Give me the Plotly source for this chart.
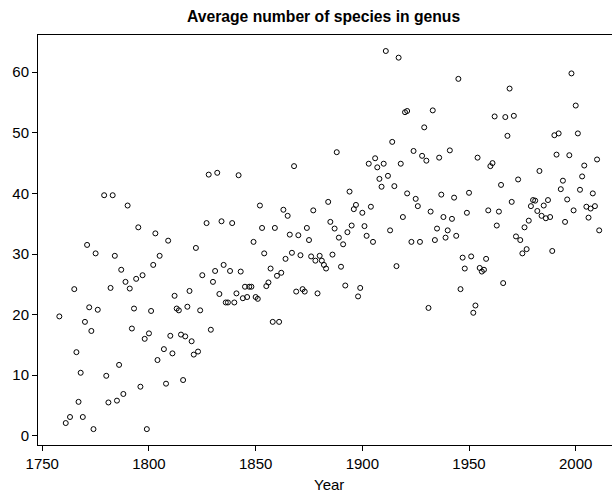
import plotly.graph_objects as go

years = [
    1779, 1783, 1790, 1795, 1803, 1809, 1771,
    1775, 1784, 1805, 1802, 1787, 1797, 1794, 1789, 1765, 1782, 1791, 1812,
    1772, 1776, 1793, 1801, 1813, 1814, 1758, 1770, 1773, 1792, 1800, 1798,
    1810, 1815, 1766, 1807, 1811, 1804, 1786, 1768, 1780, 1816, 1796, 1808,
    1767, 1781, 1785, 1788, 1763, 1769, 1761, 1774, 1799,
    1828, 1832, 1842, 1868, 1852, 1863, 1865, 1877, 1827, 1834, 1839, 1853,
    1859, 1866, 1870, 1874, 1875, 1849,
    1822, 1854, 1867, 1871, 1864, 1876, 1880, 1878, 1881, 1835, 1825, 1831,
    1838, 1843, 1857, 1830, 1845, 1847, 1848, 1856, 1855, 1860, 1862, 1819,
    1833, 1841, 1844, 1846, 1850, 1851, 1836, 1837, 1840, 1869, 1872, 1873,
    1879, 1818, 1824, 1829, 1858, 1861, 1817, 1820, 1821, 1823,
    1911, 1917, 1945, 1920, 1921, 1933, 1929, 1914, 1888, 1924, 1928, 1930,
    1936, 1941, 1906, 1903, 1907, 1910, 1918, 1908, 1912, 1909, 1915, 1894,
    1921, 1925, 1926, 1937, 1943, 1884, 1897, 1896, 1900, 1904, 1932, 1919,
    1938, 1942, 1949, 1885, 1887, 1895, 1893, 1889, 1901, 1902, 1905, 1913,
    1935, 1940, 1944, 1939, 1934, 1923, 1927, 1891,
    1886, 1882, 1883, 1890, 1916, 1947, 1948, 1892, 1899, 1898, 1946, 1931,
    1998, 1969, 2000, 1962, 1967, 1971, 1968, 1990, 1992, 2001, 1991, 1997,
    1954, 1961, 1960, 2010, 2004, 1983, 2003, 1994, 1973, 1965, 1993, 2002,
    2008, 1950, 1970, 1980, 1981, 1987, 1996, 1979, 1985, 1999, 2005, 2007,
    2009, 1982, 1984, 1986, 1988, 2006, 1959, 1964, 1978, 1976, 1995, 1963,
    2011, 1972, 1974,
    1975, 1977, 1989, 1951, 1958, 1955, 1956, 1957, 1966, 1953, 1952,
]

avg_species = [
    39.7, 39.7, 38.0, 34.4, 33.4, 32.2, 31.5,
    30.1, 29.7, 29.7, 28.2, 27.4, 26.5, 25.9, 25.4, 24.2, 24.4, 24.3, 23.1,
    21.2, 20.8, 21.0, 20.6, 21.0, 20.7, 19.7, 18.8, 17.3, 17.7, 16.9, 16.0,
    16.5, 16.7, 13.8, 14.3, 13.6, 12.5, 11.7, 10.4, 9.9, 9.2, 8.1, 8.6,
    5.6, 5.5, 5.8, 6.9, 3.1, 3.1, 2.1, 1.1, 1.1,
    43.1, 43.4, 43.0, 44.5, 38.0, 37.3, 36.3, 37.2, 35.1, 35.4, 35.1, 34.3,
    34.3, 33.2, 33.1, 34.3, 32.3, 32.0,
    31.0, 30.1, 30.2, 29.8, 29.2, 29.6, 29.7, 28.9, 28.9, 28.2, 26.5, 27.2,
    27.2, 27.1, 27.6, 25.4, 24.6, 24.6, 24.6, 25.3, 24.7, 26.4, 26.9, 23.9,
    23.4, 23.5, 22.7, 22.9, 22.9, 22.6, 22.0, 22.0, 22.0, 23.8, 24.2, 23.8,
    23.5, 21.3, 20.7, 17.5, 18.8, 18.8, 16.4, 15.6, 13.4, 13.9,
    63.5, 62.4, 58.9, 53.4, 53.6, 53.7, 50.9, 48.5, 46.8, 47.0, 46.2, 45.4,
    45.9, 47.1, 45.8, 44.9, 44.3, 44.9, 44.9, 42.4, 42.9, 41.1, 41.2, 40.3,
    40.0, 39.1, 37.9, 39.8, 39.3, 38.6, 38.1, 37.4, 36.8, 37.8, 37.0, 36.1,
    36.1, 35.8, 36.8, 35.3, 34.2, 34.7, 33.6, 32.7, 34.6, 33.0, 32.0, 33.9,
    34.2, 33.9, 33.0, 32.7, 32.3, 32.0, 32.0, 31.6,
    29.9, 28.2, 27.6, 27.9, 28.0, 29.4, 27.6, 24.8, 24.4, 23.0, 24.2, 21.1,
    59.8, 57.3, 54.5, 52.7, 52.6, 52.8, 49.5, 49.6, 49.9, 49.9, 46.4, 46.3,
    45.9, 45.0, 44.5, 45.6, 44.6, 43.7, 42.8, 42.1, 42.3, 41.4, 40.7, 40.6,
    40.0, 40.1, 38.6, 38.9, 38.8, 38.9, 39.0, 37.9, 38.0, 37.2, 37.8, 37.5,
    37.9, 37.1, 36.3, 35.9, 36.1, 36.0, 37.2, 37.0, 35.5, 34.4, 35.3, 34.7,
    33.9, 32.9, 32.3,
    30.1, 30.8, 30.5, 29.6, 29.2, 27.7, 27.1, 27.4, 25.2, 21.5, 20.3,
]

x_ticks = [1750, 1800, 1850, 1900, 1950, 2000]
y_ticks = [0, 10, 20, 30, 40, 50, 60]

FONT = "Liberation Sans, Arial, Helvetica, sans-serif"

fig = go.Figure(
    go.Scatter(
        x=years,
        y=avg_species,
        mode="markers",
        marker=dict(symbol="circle-open", size=5, color="black", line=dict(width=1)),
        hoverinfo="x+y",
    )
)

fig.update_layout(
    width=612,
    height=494,
    margin=dict(l=38, r=0, t=35, b=49),
    paper_bgcolor="white",
    plot_bgcolor="white",
    showlegend=False,
    font=dict(family=FONT, size=15, color="black"),
)

fig.update_xaxes(
    range=[1748.0, 2017.0],
    tickvals=x_ticks,
    ticktext=[str(v) for v in x_ticks],
    showgrid=False,
    zeroline=False,
    showline=True,
    linecolor="black",
    linewidth=1,
    mirror=True,
    ticks="outside",
    ticklen=5,
    tickwidth=1,
    tickcolor="black",
    tickfont=dict(size=15),
)
fig.update_yaxes(
    range=[-1.52, 66.14],
    tickvals=y_ticks,
    ticktext=[str(v) for v in y_ticks],
    showgrid=False,
    zeroline=False,
    showline=True,
    linecolor="black",
    linewidth=1,
    mirror=False,
    ticks="outside",
    ticklen=5,
    tickwidth=1,
    tickcolor="black",
    tickfont=dict(size=15),
)

fig.add_annotation(
    text="<b>Average number of species in genus</b>",
    xref="paper", yref="paper",
    x=(323.5 - 38) / 574, y=1 + (35 - 17) / 410,
    xanchor="center", yanchor="middle",
    showarrow=False,
    font=dict(family=FONT, size=15.7, color="black"),
)
fig.add_annotation(
    text="Year",
    xref="paper", yref="paper",
    x=(328.5 - 38) / 574, y=-(484 - 445) / 410,
    xanchor="center", yanchor="middle",
    showarrow=False,
    font=dict(family=FONT, size=15, color="black"),
)

fig.write_html("out.html")
